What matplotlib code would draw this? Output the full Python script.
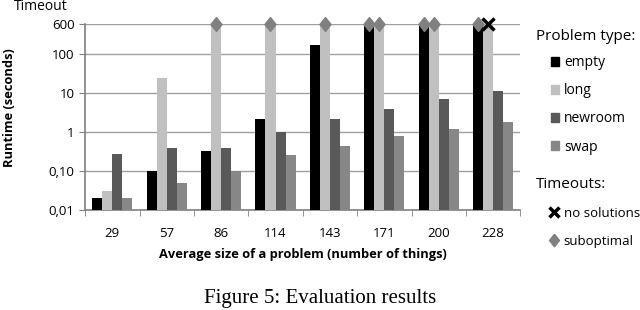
import numpy as np
import matplotlib.pyplot as plt
from matplotlib.patches import Patch
from matplotlib.lines import Line2D

sizes = ["29", "57", "86", "114", "143", "171", "200", "228"]
empty = [0.02, 0.10, 0.33, 2.2, 170, 600, 600, 600]
long_ = [0.03, 24, 600, 600, 600, 600, 600, 600]
newroom = [0.28, 0.38, 0.40, 1.0, 2.2, 4.0, 7.0, 11.0]
swap = [0.02, 0.05, 0.10, 0.25, 0.43, 0.80, 1.2, 1.8]

# timeouts: (series index, category index)
suboptimal = [(1, 2), (1, 3), (1, 4), (0, 5), (1, 5), (0, 6), (1, 6), (0, 7)]
no_solutions = [(1, 7)]

series = [empty, long_, newroom, swap]
names = ["empty", "long", "newroom", "swap"]
colors = ["#000000", "#c0c0c0", "#595959", "#878787"]
diamond = [(0, 1), (0.8, 0), (0, -1), (-0.8, 0), (0, 1)]

plt.rcParams['font.family'] = ['Open Sans', 'DejaVu Sans']
fig = plt.figure(figsize=(6.4, 3.1), dpi=100)
ax = fig.add_axes([0.133, 0.323, 0.68, 0.6])

x = np.arange(len(sizes))
w = 0.185
bottom = 0.01
for i, vals in enumerate(series):
    v = np.array(vals)
    ax.bar(x + (i - 1.5) * w, v - bottom, w, bottom=bottom, color=colors[i],
           zorder=3, label=names[i])

for si, ci in suboptimal:
    ax.plot(x[ci] + (si - 1.5) * w, series[si][ci], marker=diamond, ms=10,
            color='#808080', zorder=5, clip_on=False)
for si, ci in no_solutions:
    ax.plot(x[ci] + (si - 1.5) * w, series[si][ci], marker='x', ms=8, mew=2.5,
            color='black', zorder=5, clip_on=False)

ax.set_yscale('log')
ax.set_ylim(0.01, 600)
ax.set_xlim(-0.5, len(sizes) - 0.5)
ax.set_yticks([0.01, 0.1, 1, 10, 100, 600])
ax.set_yticklabels(["0,01", "0,10", "1", "10", "100", "600"])
ax.minorticks_off()
ax.set_xticks(x)
ax.set_xticklabels(sizes)
ax.set_xticks(np.arange(len(sizes) + 1) - 0.5, minor=True)
ax.tick_params(axis='x', which='major', length=0, pad=12, labelsize=9.5)
ax.tick_params(axis='x', which='minor', length=4, color='#808080')
ax.tick_params(axis='y', length=4, color='#808080', labelsize=9.5)
ax.grid(axis='y', color='#a0a0a0', lw=1, zorder=0)
for s in ['top', 'right']:
    ax.spines[s].set_visible(False)
for s in ['left', 'bottom']:
    ax.spines[s].set_color('#808080')
    ax.spines[s].set_linewidth(1.2)

ax.set_xlabel("Average size of a problem (number of things)", fontweight='bold',
              fontsize=9.3, labelpad=6)
ax.set_ylabel("Runtime (seconds)", fontweight='bold', fontsize=9.3)
ax.yaxis.set_label_coords(-0.158, 0.55)
fig.text(41 / 640, 1 - 6 / 310, "Timeout", ha='center', va='center', fontsize=10)

# legends
fig.text(536 / 640, 1 - 37 / 310, "Problem type:", ha='left', va='center',
         fontsize=11)
h1 = [Patch(color=c) for c in colors]
leg1 = fig.legend(h1, names, loc='upper left',
                  bbox_to_anchor=(551 / 640, 1 - 55 / 310), frameon=False,
                  fontsize=10, handlelength=0.6, handleheight=0.6,
                  labelspacing=0.95, handletextpad=0.35, borderpad=0,
                  borderaxespad=0)

fig.text(536 / 640, 1 - 184 / 310, "Timeouts:", ha='left', va='center',
         fontsize=11)
h2 = [Line2D([], [], marker='x', ms=7, mew=2.5, color='black', ls='none'),
      Line2D([], [], marker=diamond, ms=9, color='#808080', ls='none')]
leg2 = fig.legend(h2, ["no solutions", "suboptimal"], loc='upper left',
                  bbox_to_anchor=(549 / 640, 1 - 207 / 310), frameon=False,
                  fontsize=9.5, handlelength=0.8, labelspacing=1.1,
                  handletextpad=0.3, borderpad=0, borderaxespad=0)

fig.text(0.5, 1 - 298 / 310, "Figure 5: Evaluation results", ha='center',
         va='center', fontsize=15, family='Liberation Serif')

fig.savefig("out.png", dpi=100)
